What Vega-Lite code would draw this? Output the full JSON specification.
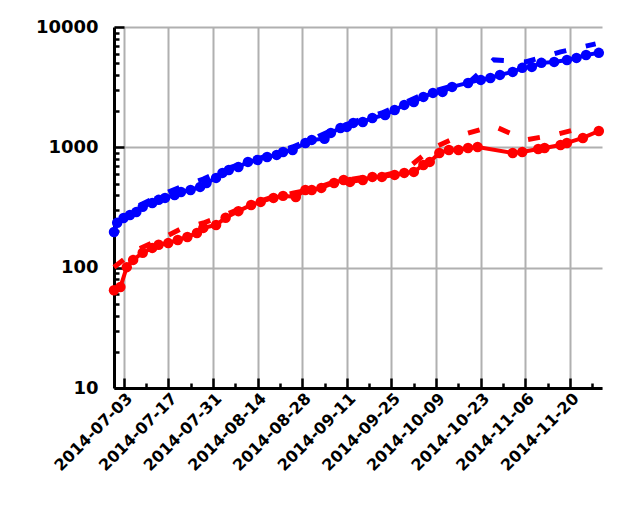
{
  "$schema": "https://vega.github.io/schema/vega-lite/v6.json",
  "width": 488,
  "height": 361,
  "autosize": "none",
  "padding": {"left": 114, "top": 27, "right": 38, "bottom": 124},
  "background": "white",
  "config": {"view": {"stroke": null}},
  "datasets": {
    "series": [
      {"date": "2014-06-30", "value": 198, "series": "s1", "kind": "solid"},
      {"date": "2014-07-01", "value": 236, "series": "s1", "kind": "solid"},
      {"date": "2014-07-03", "value": 259, "series": "s1", "kind": "solid"},
      {"date": "2014-07-05", "value": 274, "series": "s1", "kind": "solid"},
      {"date": "2014-07-07", "value": 290, "series": "s1", "kind": "solid"},
      {"date": "2014-07-09", "value": 320, "series": "s1", "kind": "solid"},
      {"date": "2014-07-12", "value": 345, "series": "s1", "kind": "solid"},
      {"date": "2014-07-14", "value": 366, "series": "s1", "kind": "solid"},
      {"date": "2014-07-16", "value": 380, "series": "s1", "kind": "solid"},
      {"date": "2014-07-19", "value": 402, "series": "s1", "kind": "solid"},
      {"date": "2014-07-21", "value": 426, "series": "s1", "kind": "solid"},
      {"date": "2014-07-24", "value": 442, "series": "s1", "kind": "solid"},
      {"date": "2014-07-27", "value": 469, "series": "s1", "kind": "solid"},
      {"date": "2014-07-29", "value": 506, "series": "s1", "kind": "solid"},
      {"date": "2014-08-01", "value": 557, "series": "s1", "kind": "solid"},
      {"date": "2014-08-03", "value": 613, "series": "s1", "kind": "solid"},
      {"date": "2014-08-05", "value": 649, "series": "s1", "kind": "solid"},
      {"date": "2014-08-08", "value": 687, "series": "s1", "kind": "solid"},
      {"date": "2014-08-11", "value": 757, "series": "s1", "kind": "solid"},
      {"date": "2014-08-14", "value": 786, "series": "s1", "kind": "solid"},
      {"date": "2014-08-17", "value": 832, "series": "s1", "kind": "solid"},
      {"date": "2014-08-20", "value": 865, "series": "s1", "kind": "solid"},
      {"date": "2014-08-22", "value": 916, "series": "s1", "kind": "solid"},
      {"date": "2014-08-25", "value": 951, "series": "s1", "kind": "solid"},
      {"date": "2014-08-29", "value": 1088, "series": "s1", "kind": "solid"},
      {"date": "2014-08-31", "value": 1153, "series": "s1", "kind": "solid"},
      {"date": "2014-09-04", "value": 1180, "series": "s1", "kind": "solid"},
      {"date": "2014-09-06", "value": 1318, "series": "s1", "kind": "solid"},
      {"date": "2014-09-09", "value": 1449, "series": "s1", "kind": "solid"},
      {"date": "2014-09-11", "value": 1478, "series": "s1", "kind": "solid"},
      {"date": "2014-09-13", "value": 1596, "series": "s1", "kind": "solid"},
      {"date": "2014-09-16", "value": 1626, "series": "s1", "kind": "solid"},
      {"date": "2014-09-19", "value": 1755, "series": "s1", "kind": "solid"},
      {"date": "2014-09-23", "value": 1859, "series": "s1", "kind": "solid"},
      {"date": "2014-09-26", "value": 2046, "series": "s1", "kind": "solid"},
      {"date": "2014-09-29", "value": 2253, "series": "s1", "kind": "solid"},
      {"date": "2014-10-02", "value": 2384, "series": "s1", "kind": "solid"},
      {"date": "2014-10-05", "value": 2625, "series": "s1", "kind": "solid"},
      {"date": "2014-10-08", "value": 2833, "series": "s1", "kind": "solid"},
      {"date": "2014-10-11", "value": 2889, "series": "s1", "kind": "solid"},
      {"date": "2014-10-14", "value": 3179, "series": "s1", "kind": "solid"},
      {"date": "2014-10-19", "value": 3430, "series": "s1", "kind": "solid"},
      {"date": "2014-10-23", "value": 3633, "series": "s1", "kind": "solid"},
      {"date": "2014-10-26", "value": 3774, "series": "s1", "kind": "solid"},
      {"date": "2014-10-29", "value": 3998, "series": "s1", "kind": "solid"},
      {"date": "2014-11-02", "value": 4236, "series": "s1", "kind": "solid"},
      {"date": "2014-11-05", "value": 4575, "series": "s1", "kind": "solid"},
      {"date": "2014-11-08", "value": 4661, "series": "s1", "kind": "solid"},
      {"date": "2014-11-11", "value": 5035, "series": "s1", "kind": "solid"},
      {"date": "2014-11-15", "value": 5129, "series": "s1", "kind": "solid"},
      {"date": "2014-11-19", "value": 5326, "series": "s1", "kind": "solid"},
      {"date": "2014-11-22", "value": 5535, "series": "s1", "kind": "solid"},
      {"date": "2014-11-25", "value": 5860, "series": "s1", "kind": "solid"},
      {"date": "2014-11-29", "value": 6096, "series": "s1", "kind": "solid"},

      {"date": "2014-06-30", "value": 65, "series": "s2", "kind": "solid"},
      {"date": "2014-07-02", "value": 69, "series": "s2", "kind": "solid"},
      {"date": "2014-07-04", "value": 101, "series": "s2", "kind": "solid"},
      {"date": "2014-07-06", "value": 116, "series": "s2", "kind": "solid"},
      {"date": "2014-07-09", "value": 133, "series": "s2", "kind": "solid"},
      {"date": "2014-07-12", "value": 146, "series": "s2", "kind": "solid"},
      {"date": "2014-07-14", "value": 155, "series": "s2", "kind": "solid"},
      {"date": "2014-07-17", "value": 160, "series": "s2", "kind": "solid"},
      {"date": "2014-07-20", "value": 170, "series": "s2", "kind": "solid"},
      {"date": "2014-07-23", "value": 180, "series": "s2", "kind": "solid"},
      {"date": "2014-07-26", "value": 194, "series": "s2", "kind": "solid"},
      {"date": "2014-07-28", "value": 214, "series": "s2", "kind": "solid"},
      {"date": "2014-08-01", "value": 226, "series": "s2", "kind": "solid"},
      {"date": "2014-08-04", "value": 260, "series": "s2", "kind": "solid"},
      {"date": "2014-08-08", "value": 295, "series": "s2", "kind": "solid"},
      {"date": "2014-08-12", "value": 332, "series": "s2", "kind": "solid"},
      {"date": "2014-08-15", "value": 352, "series": "s2", "kind": "solid"},
      {"date": "2014-08-19", "value": 380, "series": "s2", "kind": "solid"},
      {"date": "2014-08-22", "value": 395, "series": "s2", "kind": "solid"},
      {"date": "2014-08-26", "value": 387, "series": "s2", "kind": "solid"},
      {"date": "2014-08-29", "value": 442, "series": "s2", "kind": "solid"},
      {"date": "2014-08-31", "value": 442, "series": "s2", "kind": "solid"},
      {"date": "2014-09-03", "value": 460, "series": "s2", "kind": "solid"},
      {"date": "2014-09-07", "value": 506, "series": "s2", "kind": "solid"},
      {"date": "2014-09-10", "value": 536, "series": "s2", "kind": "solid"},
      {"date": "2014-09-12", "value": 516, "series": "s2", "kind": "solid"},
      {"date": "2014-09-16", "value": 536, "series": "s2", "kind": "solid"},
      {"date": "2014-09-19", "value": 568, "series": "s2", "kind": "solid"},
      {"date": "2014-09-22", "value": 568, "series": "s2", "kind": "solid"},
      {"date": "2014-09-26", "value": 590, "series": "s2", "kind": "solid"},
      {"date": "2014-09-29", "value": 613, "series": "s2", "kind": "solid"},
      {"date": "2014-10-02", "value": 625, "series": "s2", "kind": "solid"},
      {"date": "2014-10-05", "value": 714, "series": "s2", "kind": "solid"},
      {"date": "2014-10-07", "value": 757, "series": "s2", "kind": "solid"},
      {"date": "2014-10-10", "value": 898, "series": "s2", "kind": "solid"},
      {"date": "2014-10-13", "value": 951, "series": "s2", "kind": "solid"},
      {"date": "2014-10-16", "value": 951, "series": "s2", "kind": "solid"},
      {"date": "2014-10-19", "value": 988, "series": "s2", "kind": "solid"},
      {"date": "2014-10-22", "value": 1007, "series": "s2", "kind": "solid"},
      {"date": "2014-11-02", "value": 898, "series": "s2", "kind": "solid"},
      {"date": "2014-11-05", "value": 916, "series": "s2", "kind": "solid"},
      {"date": "2014-11-10", "value": 970, "series": "s2", "kind": "solid"},
      {"date": "2014-11-12", "value": 988, "series": "s2", "kind": "solid"},
      {"date": "2014-11-17", "value": 1047, "series": "s2", "kind": "solid"},
      {"date": "2014-11-19", "value": 1088, "series": "s2", "kind": "solid"},
      {"date": "2014-11-24", "value": 1197, "series": "s2", "kind": "solid"},
      {"date": "2014-11-29", "value": 1368, "series": "s2", "kind": "solid"},

      {"date": "2014-06-30", "value": 226, "series": "s1", "kind": "dashed"},
      {"date": "2014-07-07", "value": 320, "series": "s1", "kind": "dashed"},
      {"date": "2014-07-14", "value": 395, "series": "s1", "kind": "dashed"},
      {"date": "2014-07-21", "value": 470, "series": "s1", "kind": "dashed"},
      {"date": "2014-07-28", "value": 545, "series": "s1", "kind": "dashed"},
      {"date": "2014-08-04", "value": 660, "series": "s1", "kind": "dashed"},
      {"date": "2014-08-11", "value": 757, "series": "s1", "kind": "dashed"},
      {"date": "2014-08-18", "value": 865, "series": "s1", "kind": "dashed"},
      {"date": "2014-08-25", "value": 1007, "series": "s1", "kind": "dashed"},
      {"date": "2014-09-01", "value": 1197, "series": "s1", "kind": "dashed"},
      {"date": "2014-09-08", "value": 1449, "series": "s1", "kind": "dashed"},
      {"date": "2014-09-15", "value": 1690, "series": "s1", "kind": "dashed"},
      {"date": "2014-09-22", "value": 1931, "series": "s1", "kind": "dashed"},
      {"date": "2014-09-29", "value": 2338, "series": "s1", "kind": "dashed"},
      {"date": "2014-10-06", "value": 2833, "series": "s1", "kind": "dashed"},
      {"date": "2014-10-13", "value": 3179, "series": "s1", "kind": "dashed"},
      {"date": "2014-10-20", "value": 3600, "series": "s1", "kind": "dashed"},
      {"date": "2014-10-27", "value": 5326, "series": "s1", "kind": "dashed"},
      {"date": "2014-11-06", "value": 5129, "series": "s1", "kind": "dashed"},
      {"date": "2014-11-17", "value": 6209, "series": "s1", "kind": "dashed"},
      {"date": "2014-11-28", "value": 7244, "series": "s1", "kind": "dashed"},

      {"date": "2014-06-30", "value": 101, "series": "s2", "kind": "dashed"},
      {"date": "2014-07-07", "value": 140, "series": "s2", "kind": "dashed"},
      {"date": "2014-07-14", "value": 170, "series": "s2", "kind": "dashed"},
      {"date": "2014-07-21", "value": 210, "series": "s2", "kind": "dashed"},
      {"date": "2014-07-28", "value": 235, "series": "s2", "kind": "dashed"},
      {"date": "2014-08-04", "value": 275, "series": "s2", "kind": "dashed"},
      {"date": "2014-08-11", "value": 330, "series": "s2", "kind": "dashed"},
      {"date": "2014-08-18", "value": 380, "series": "s2", "kind": "dashed"},
      {"date": "2014-08-25", "value": 415, "series": "s2", "kind": "dashed"},
      {"date": "2014-09-01", "value": 455, "series": "s2", "kind": "dashed"},
      {"date": "2014-09-08", "value": 525, "series": "s2", "kind": "dashed"},
      {"date": "2014-09-15", "value": 555, "series": "s2", "kind": "dashed"},
      {"date": "2014-09-22", "value": 580, "series": "s2", "kind": "dashed"},
      {"date": "2014-09-29", "value": 640, "series": "s2", "kind": "dashed"},
      {"date": "2014-10-08", "value": 988, "series": "s2", "kind": "dashed"},
      {"date": "2014-10-17", "value": 1268, "series": "s2", "kind": "dashed"},
      {"date": "2014-10-27", "value": 1507, "series": "s2", "kind": "dashed"},
      {"date": "2014-11-06", "value": 1153, "series": "s2", "kind": "dashed"},
      {"date": "2014-11-15", "value": 1268, "series": "s2", "kind": "dashed"},
      {"date": "2014-11-26", "value": 1507, "series": "s2", "kind": "dashed"}
    ]
  },
  "data": {"name": "series"},
  "encoding": {
    "x": {
      "field": "date",
      "type": "temporal",
      "scale": {
        "type": "utc",
        "domain": [
          {"year": 2014, "month": 6, "date": 30, "utc": true},
          {"year": 2014, "month": 11, "date": 30, "utc": true}
        ]
      },
      "axis": {
        "title": null,
        "values": [
          {"year": 2014, "month": 7, "date": 3, "utc": true},
          {"year": 2014, "month": 7, "date": 10, "utc": true},
          {"year": 2014, "month": 7, "date": 17, "utc": true},
          {"year": 2014, "month": 7, "date": 24, "utc": true},
          {"year": 2014, "month": 7, "date": 31, "utc": true},
          {"year": 2014, "month": 8, "date": 7, "utc": true},
          {"year": 2014, "month": 8, "date": 14, "utc": true},
          {"year": 2014, "month": 8, "date": 21, "utc": true},
          {"year": 2014, "month": 8, "date": 28, "utc": true},
          {"year": 2014, "month": 9, "date": 4, "utc": true},
          {"year": 2014, "month": 9, "date": 11, "utc": true},
          {"year": 2014, "month": 9, "date": 18, "utc": true},
          {"year": 2014, "month": 9, "date": 25, "utc": true},
          {"year": 2014, "month": 10, "date": 2, "utc": true},
          {"year": 2014, "month": 10, "date": 9, "utc": true},
          {"year": 2014, "month": 10, "date": 16, "utc": true},
          {"year": 2014, "month": 10, "date": 23, "utc": true},
          {"year": 2014, "month": 10, "date": 30, "utc": true},
          {"year": 2014, "month": 11, "date": 6, "utc": true},
          {"year": 2014, "month": 11, "date": 13, "utc": true},
          {"year": 2014, "month": 11, "date": 20, "utc": true},
          {"year": 2014, "month": 11, "date": 27, "utc": true}
        ],
        "labelExpr": "round((datum.value - 1404345600000) / 86400000) % 14 == 0 ? utcFormat(datum.value, '%Y-%m-%d') : ''",
        "labelAngle": -45,
        "labelAlign": "right",
        "labelBaseline": "top",
        "labelFont": "DejaVu Sans",
        "labelFontWeight": "bold",
        "labelFontSize": 16,
        "labelColor": "black",
        "labelOverlap": false,
        "labelFlush": false,
        "labelPadding": 12,
        "domainColor": "black",
        "domainWidth": 3,
        "tickColor": "black",
        "tickWidth": 2.5,
        "tickSize": {"condition": {"test": "round((datum.value - 1404345600000) / 86400000) % 14 == 0", "value": -10}, "value": -5},
        "grid": true,
        "gridColor": "#b0b0b0",
        "gridWidth": 2,
        "gridOpacity": {"condition": {"test": "round((datum.value - 1404345600000) / 86400000) % 14 == 0", "value": 1}, "value": 0}
      }
    },
    "y": {
      "field": "value",
      "type": "quantitative",
      "scale": {"type": "log", "domain": [10, 10000]},
      "axis": {
        "title": null,
        "values": [10, 20, 30, 40, 50, 60, 70, 80, 90, 100, 200, 300, 400, 500, 600, 700, 800, 900, 1000, 2000, 3000, 4000, 5000, 6000, 7000, 8000, 9000, 10000],
        "labelExpr": "indexof([10, 100, 1000, 10000], datum.value) >= 0 ? format(datum.value, 'd') : ''",
        "labelFont": "DejaVu Sans",
        "labelFontWeight": "bold",
        "labelFontSize": 18,
        "labelColor": "black",
        "labelOverlap": false,
        "labelFlush": false,
        "labelPadding": 26,
        "domainColor": "black",
        "domainWidth": 3,
        "tickColor": "black",
        "tickWidth": 2.5,
        "tickSize": {"condition": {"test": "indexof([10, 100, 1000, 10000], datum.value) >= 0", "value": -10}, "value": -5},
        "grid": true,
        "gridColor": "#b0b0b0",
        "gridWidth": 2,
        "gridOpacity": {"condition": {"test": "indexof([10, 100, 1000, 10000], datum.value) >= 0", "value": 1}, "value": 0}
      }
    },
    "color": {
      "field": "series",
      "type": "nominal",
      "scale": {"domain": ["s1", "s2"], "range": ["#0000ff", "#ff0000"]},
      "legend": null
    }
  },
  "layer": [
    {
      "transform": [{"filter": "datum.kind == 'solid'"}],
      "mark": {"type": "line", "strokeWidth": 4, "point": {"filled": true, "size": 110, "opacity": 1}}
    },
    {
      "transform": [{"filter": "datum.kind == 'dashed'"}],
      "mark": {"type": "line", "strokeWidth": 5, "strokeDash": [12, 20]}
    }
  ]
}
